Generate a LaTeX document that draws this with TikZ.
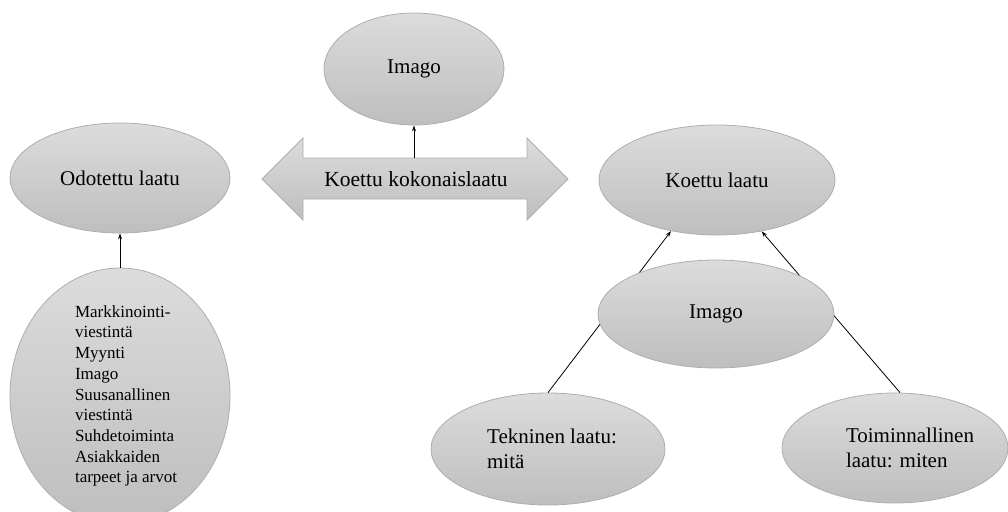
\documentclass[tikz,border=0pt]{standalone}
\usepackage{fontspec}
\setmainfont{Liberation Serif}
\usetikzlibrary{shapes.geometric,arrows.meta}
\definecolor{gtop}{HTML}{DCDCDC}
\definecolor{gbot}{HTML}{BEBEBE}
\definecolor{gline}{HTML}{AEAEAE}
\tikzset{
  oval/.style={ellipse, draw=gline, line width=0.8pt, top color=gtop, bottom color=gbot,
    inner sep=0pt, font=\fontsize{21}{24.5}\selectfont, align=left},
  conn/.style={-{Stealth[length=6pt,width=4pt]}, line width=0.8pt, black},
  lbl/.style={font=\fontsize{21.5}{25}\selectfont, inner sep=0pt}
}
\begin{document}
\begin{tikzpicture}[x=1pt,y=-1pt]
\useasboundingbox (0,0) rectangle (1008,511);
% double arrow
\shade[draw=gline, line width=0.8pt, top color=gtop, bottom color=gbot]
  (262,179) -- (303,138) -- (303,158) -- (527,158) -- (527,138) -- (568,179)
  -- (527,220) -- (527,199) -- (303,199) -- (303,220) -- cycle;
\node[lbl] (kk) at (416,179) {Koettu kokonaislaatu};
\coordinate (shafttop) at (414,158);
% ellipses
\node[oval, minimum width=180pt, minimum height=112pt] (imagoA) at (414,69) {Imago};
\node[oval, minimum width=220pt, minimum height=110pt] (odot) at (120,178) {Odotettu laatu};
\node[oval, minimum width=220pt, minimum height=236pt, font=\fontsize{17}{20.7}\selectfont] (list) at (120,396)
  {\hspace*{12pt}Markkinointi-\\\hspace*{12pt}viestintä\\\hspace*{12pt}Myynti\\\hspace*{12pt}Imago\\\hspace*{12pt}Suusanallinen\\\hspace*{12pt}viestintä\\\hspace*{12pt}Suhdetoiminta\\\hspace*{12pt}Asiakkaiden\\\hspace*{12pt}tarpeet ja arvot};
\node[oval, minimum width=236pt, minimum height=110pt] (koettu) at (717,180) {Koettu laatu};
\node[oval, minimum width=234pt, minimum height=112pt] (tek) at (548,449) {\hspace*{8pt}Tekninen laatu:\\\hspace*{8pt}mitä};
\node[oval, minimum width=226pt, minimum height=110pt] (toim) at (895,448) {\hspace*{30pt}Toiminnallinen\\\hspace*{30pt}laatu: miten};
% connectors behind the lower Imago
\draw[conn] (tek.north) -- (koettu.228);
\draw[conn] ([xshift=5pt]toim.north) -- (koettu.311);
\node[oval, minimum width=236pt, minimum height=108pt] (imagoB) at (716,314) {Imago};
\draw[conn] (shafttop) -- (imagoA.south);
\draw[conn] (list.north) -- (odot.south);
\end{tikzpicture}
\end{document}
